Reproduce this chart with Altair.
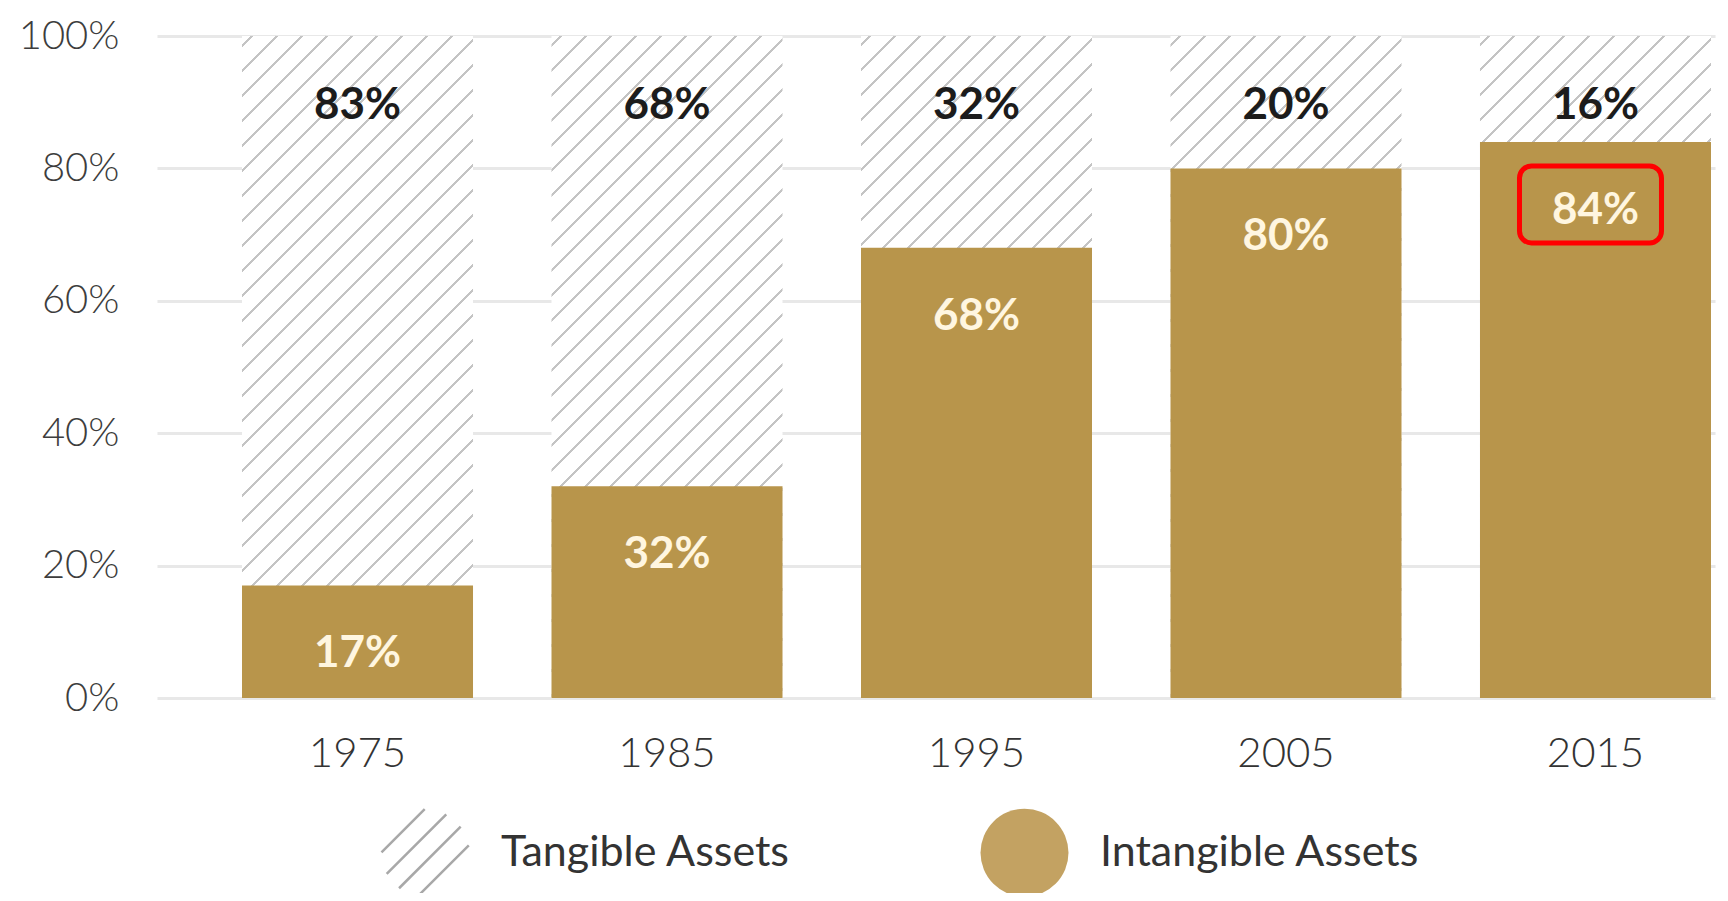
import math
import altair as alt
import pandas as pd

# ---- data ----
years = ["1975", "1985", "1995", "2005", "2015"]
tangible = [83, 68, 32, 20, 16]
intangible = [17, 32, 68, 80, 84]
series_names = ["Tangible Assets", "Intangible Assets"]
y_ticks = [0, 20, 40, 60, 80, 100]
highlight_year = "2015"

rows = []
for yr, t, i in zip(years, tangible, intangible):
    rows.append({"year": yr, "series": series_names[0], "value": t})
    rows.append({"year": yr, "series": series_names[1], "value": i})
df = pd.DataFrame(rows)

# ---- styling ----
GOLD = "#B8954B"
LEGEND_GOLD = "#C3A262"
HATCH = "#c4c4c4"
FONT = "Lato"

W, H = 1558, 662
PAD_IN, PAD_OUT, ALIGN = 0.2536, 0.1438, 0.955
step = W / (len(years) - PAD_IN + 2 * PAD_OUT)
bw = step * (1 - PAD_IN)
ratio = H / bw
denom = 1 + ratio ** 2
period, lw = 25.0, 3.0


def off(s):
    return min(1.0, (s / bw) / denom)


stops = [alt.GradientStop(offset=0, color="#ffffff")]
s = 8.0
while s < bw + H + period:
    stops += [
        alt.GradientStop(offset=off(s), color="#ffffff"),
        alt.GradientStop(offset=off(s), color=HATCH),
        alt.GradientStop(offset=off(s + lw), color=HATCH),
        alt.GradientStop(offset=off(s + lw), color="#ffffff"),
    ]
    s += period
hatch_fill = alt.LinearGradient(gradient="linear", stops=stops, x1=0, y1=0, x2=1, y2=ratio)

# legend hatch icon: chords of the unit circle at 45 degrees
parts = []
for d in [-0.72, -0.29, 0.14, 0.57]:
    c = d / math.sqrt(2)
    h = math.sqrt(1 - d * d) / math.sqrt(2)
    parts.append(f"M{c - h:.3f},{c + h:.3f}L{c + h:.3f},{c - h:.3f}")
hatch_path = "".join(parts)

x_enc = alt.X(
    "year:N",
    sort=years,
    scale=alt.Scale(paddingInner=PAD_IN, paddingOuter=PAD_OUT, align=ALIGN, round=False),
    axis=alt.Axis(
        title=None, domain=False, ticks=False, grid=False, labelAngle=0, labelPadding=35,
        labelFont=FONT, labelFontSize=42, labelFontWeight=300, labelColor="#333333",
    ),
)
y_scale = alt.Scale(domain=[0, 100], nice=False, zero=True)
y_axis = alt.Axis(
    title=None, values=y_ticks, labelExpr="datum.value + '%'", domain=False, ticks=False,
    grid=True, gridColor="#e8e8e8", gridWidth=3, labelPadding=38, labelFlush=False,
    labelFont=FONT, labelFontSize=40, labelFontWeight=300, labelColor="#3d3d3d",
)

base = alt.Chart(df).transform_joinaggregate(total="sum(value)", groupby=["year"])

bg = base.mark_bar(fill=hatch_fill, strokeWidth=0).encode(
    x=x_enc,
    y=alt.Y("sum(value):Q", scale=y_scale, axis=y_axis),
)

gold = base.transform_filter(alt.datum.series == series_names[1]).mark_bar(
    fill=GOLD, strokeWidth=0
).encode(x=x_enc, y=alt.Y("value:Q", stack=None, scale=y_scale))

tan_text = base.transform_filter(alt.datum.series == series_names[0]).mark_text(
    font=FONT, fontSize=44, fontWeight="bold", color="#1c1c1c", baseline="middle", dy=70
).encode(
    x=x_enc,
    y=alt.Y("total:Q", scale=y_scale),
    text=alt.Text("label:N"),
).transform_calculate(label="datum.value + '%'")

int_text = base.transform_filter(alt.datum.series == series_names[1]).mark_text(
    font=FONT, fontSize=44, fontWeight="bold", color="#FFF6E0", baseline="middle", dy=69
).encode(
    x=x_enc,
    y=alt.Y("value:Q", stack=None, scale=y_scale),
    text=alt.Text("label:N"),
).transform_calculate(label="datum.value + '%'")

box = base.transform_filter(
    (alt.datum.series == series_names[1]) & (alt.datum.year == highlight_year)
).mark_bar(
    width=142, cornerRadius=12, fill="#ffffff", fillOpacity=0, stroke="#FF0000",
    strokeWidth=5, yOffset=24, y2Offset=101, xOffset=-5,
).encode(
    x=x_enc,
    y=alt.Y("value:Q", stack=None, scale=y_scale),
    y2=alt.Y2("value:Q"),
)

leg = alt.Legend(
    title=None, orient="none", legendX=223, legendY=771, direction="horizontal",
    symbolSize=7744, symbolStrokeWidth=2.5, symbolOpacity=1, padding=0,
    labelFont=FONT, labelFontSize=43, labelColor="#333333", labelOffset=30,
    columnPadding=184, labelLimit=0,
)
legend_layer = base.transform_filter("false").mark_point(filled=True).encode(
    x=x_enc,
    y=alt.Y("value:Q", stack=None, scale=y_scale),
    shape=alt.Shape("series:N", scale=alt.Scale(domain=series_names, range=[hatch_path, "circle"]), legend=leg),
    fill=alt.Fill("series:N", scale=alt.Scale(domain=series_names, range=["transparent", LEGEND_GOLD]), legend=leg),
    stroke=alt.Stroke("series:N", scale=alt.Scale(domain=series_names, range=["#a8a8a8", "transparent"]), legend=leg),
)

chart = alt.layer(bg, gold, tan_text, int_text, box, legend_layer).properties(
    width=W, height=H,
    background="#ffffff",
    autosize=alt.AutoSizeParams(type="none"),
    padding={"left": 149, "top": 28, "right": 2, "bottom": 195},
).configure_view(stroke=None, strokeWidth=0)

chart.save("out.html", embed_options={"renderer": "svg", "actions": False})
